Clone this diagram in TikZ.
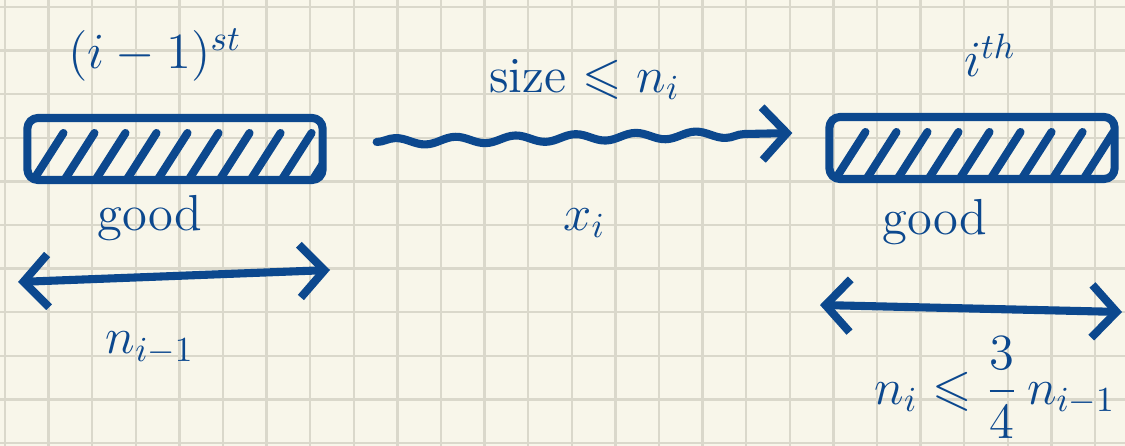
\documentclass[tikz,border=0pt]{standalone}
\usepackage{amsmath,amssymb}
\usetikzlibrary{arrows.meta, decorations.pathmorphing}
\definecolor{ink}{RGB}{12,72,142}
\definecolor{paper}{RGB}{248,246,234}
\definecolor{gridline}{RGB}{218,216,203}

\begin{document}
\begin{tikzpicture}[x=0.01cm, y=-0.01cm,
  pen/.style={ink, line width=2.3pt, line cap=round, line join=round},
  barb/.tip={Straight Barb[length=7pt, width=15pt]},
  seg/.style={pen, draw, rounded corners=3pt, minimum height=0.62cm, inner sep=0pt,
    path picture={\foreach \k in {0,...,9}
      \draw[pen] ([xshift=\k*0.31cm+0.06cm]path picture bounding box.south west) -- ++(0.3cm,0.47cm);}},
  lbl/.style={ink, font=\Large}]
  % Paper and grid
  \fill[paper] (0,0) rectangle (1125,446);
  \useasboundingbox (0,0) rectangle (1125,446);
  \foreach \k in {0,...,25}
    \draw[gridline, line width=0.7pt] ({5+43.6*\k},0) -- ({5+43.6*\k},446);
  \foreach \k in {0,...,10}
    \draw[gridline, line width=0.7pt] (0,{7+43.6*\k}) -- (1125,{7+43.6*\k});
  % Previous segment
  \node[seg, minimum width=2.95cm] (prev) at (175,149) {};
  \node[lbl] (prevname) at (155,55) {$(i-1)^{st}$};
  \node[lbl] (prevgood) at (150,218) {good};
  \coordinate (pa) at (18,282);
  \coordinate (pb) at (330,270);
  \draw[pen, barb-barb] (pa) -- (pb);
  \node[lbl] (prevlen) at (150,348) {$n_{i-1}$};
  % Next segment
  \node[seg, minimum width=2.85cm] (next) at (972,148) {};
  \node[lbl] (nextname) at (990,55) {$i^{th}$};
  \node[lbl] (nextgood) at (935,222) {good};
  \coordinate (qa) at (820,305);
  \coordinate (qb) at (1122,312);
  \draw[pen, barb-barb] (qa) -- (qb);
  \node[lbl] (nextlen) at (995,388) {$n_i \leqslant \dfrac{3}{4}\, n_{i-1}$};
  % Wavy step between them
  \draw[pen, -barb, decorate, decoration={snake, amplitude=0.035cm, segment length=0.6cm, post length=0.3cm}]
    ([xshift=0.5cm, yshift=0.07cm]prev.east) -- ([xshift=-0.33cm, yshift=0.15cm]next.west)
    node[midway, above=0.22cm, lbl] (stepsize) {size $\leqslant n_i$}
    node[midway, below=0.55cm, lbl] (stepx) {$x_i$};
\end{tikzpicture}
\end{document}
